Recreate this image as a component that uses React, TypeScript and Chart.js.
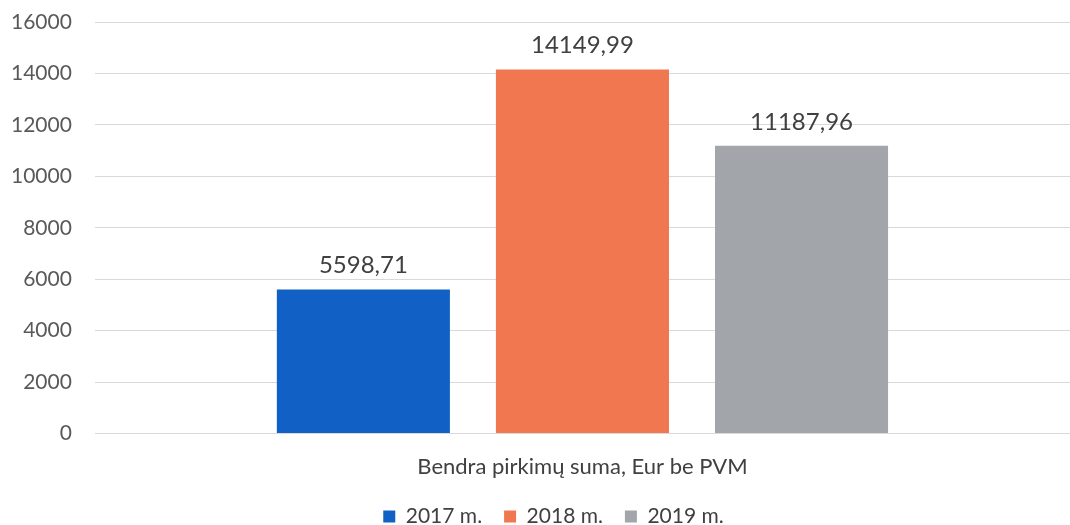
import React, { useEffect, useRef } from "react";
import { Chart, registerables } from "chart.js";

Chart.register(...registerables);

const categories = ["Bendra pirkimų suma, Eur be PVM"];
const seriesLabels = ["2017 m.", "2018 m.", "2019 m."];
const seriesValues = [5598.71, 14149.99, 11187.96];
const seriesColors = ["#1160C6", "#F0774F", "#A2A5AA"];
const yTicks = [0, 2000, 4000, 6000, 8000, 10000, 12000, 14000, 16000];

const FONT = "Lato, 'Open Sans', sans-serif";

const valueLabels = {
  id: "valueLabels",
  afterDatasetsDraw(chart: any) {
    const ctx = chart.ctx;
    ctx.save();
    ctx.font = `24px ${FONT}`;
    ctx.fillStyle = "#404040";
    ctx.textAlign = "center";
    ctx.textBaseline = "bottom";
    chart.data.datasets.forEach((ds: any, i: number) => {
      const meta = chart.getDatasetMeta(i);
      meta.data.forEach((bar: any, j: number) => {
        const v = ds.data[j] as number;
        ctx.fillText(v.toFixed(2).replace(".", ","), bar.x, bar.y - 12);
      });
    });
    ctx.restore();
  },
};

const legendTweak = {
  id: "legendTweak",
  beforeUpdate(chart: any) {
    const lg = chart.legend;
    if (lg && !lg._tweaked) {
      lg._tweaked = true;
      const origFit = lg.fit.bind(lg);
      lg.fit = function () {
        origFit();
        this.height -= 20;
      };
    }
  },
  afterLayout(chart: any) {
    const lg = chart.legend;
    if (lg) {
      lg.top -= 8;
      lg.left += 24;
    }
  },
};

export default function App() {
  const ref = useRef<HTMLCanvasElement>(null);
  useEffect(() => {
    document.body.style.margin = "0";
    const chart = new Chart(ref.current!, {
      type: "bar",
      data: {
        labels: categories,
        datasets: seriesLabels.map((l, i) => ({
          label: l,
          data: [seriesValues[i]],
          backgroundColor: seriesColors[i],
          categoryPercentage: 0.674,
          barPercentage: 0.79,
        })),
      },
      options: {
        animation: false,
        responsive: false,
        layout: { padding: { left: 11, right: -2, top: 22, bottom: 0 } },
        plugins: {
          legend: {
            position: "bottom",
            labels: {
              font: { family: FONT, size: 21 },
              color: "#404040",
              boxWidth: 12,
              boxHeight: 12,
              padding: 22,
            },
          },
          tooltip: { enabled: false },
        },
        scales: {
          x: {
            grid: { display: false },
            border: { display: false },
            ticks: { font: { family: FONT, size: 22 }, color: "#404040", padding: 12 },
          },
          y: {
            min: 0,
            max: 16000,
            afterBuildTicks: (axis: any) => {
              axis.ticks = yTicks.map((v) => ({ value: v }));
            },
            grid: {
              color: "#D9D9D9",
              drawTicks: true,
              tickLength: 23,
              tickColor: "rgba(0,0,0,0)",
              lineWidth: 1,
            },
            border: { display: false },
            ticks: {
              font: { family: FONT, size: 21 },
              color: "#595959",
              padding: 0,
              callback: (v: any) => String(v),
            },
          },
        },
      },
      plugins: [legendTweak, valueLabels],
    });
    return () => chart.destroy();
  }, []);
  return <canvas ref={ref} width={1070} height={525} style={{ display: "block" }} />;
}
